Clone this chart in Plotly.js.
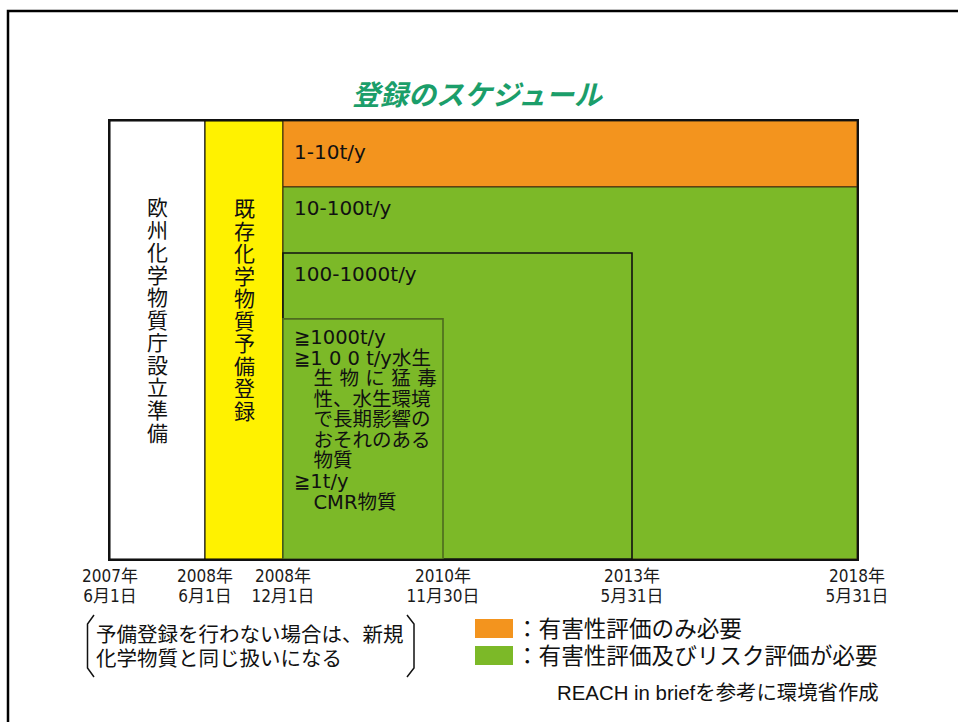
<!DOCTYPE html>
<html><head><meta charset="utf-8">
<script src="https://cdn.plot.ly/plotly-3.0.1.min.js"></script>
<style>html,body{margin:0;padding:0;background:#fff}</style>
</head><body><div id="chart" style="width:958px;height:722px"></div>
<script>
// ---- data ----
const titleText = '登録のスケジュール';
const milestoneYears = ['2007年','2008年','2008年','2010年','2013年','2018年'];
const milestoneDays = ['6月1日','6月1日','12月1日','11月30日','5月31日','5月31日'];
const milestonePos = [0, 95, 173, 333, 522, 747]; // schedule position (diagram is not to time scale)
const phaseLabels = ['欧州化学物質庁設立準備','既存化学物質予備登録'];
const phaseColors = ['#ffffff','#fff200'];
const tierLabels = ['1-10t/y','10-100t/y','100-1000t/y',''];
const tierTop = [6.64, 5.64, 4.64, 3.64];
const tierEndIdx = [5, 5, 4, 3];
const tierColors = ['#f3941e','#7cb928','#7cb928','#7cb928'];
const tierLineColors = ['#3b2a10','#3b2a10','#111111','#4d6b1f'];
const boxBlockA = ['≧1000t/y','≧1 0 0 t/y水生','\u2003生\u2004物\u2004に\u2004猛\u2004毒','\u2003性、水生環境','\u2003で長期影響の','\u2003おそれのある','\u2003物質'];
const boxBlockB = ['≧1t/y','\u2003CMR物質'];
const noteLines = ['予備登録を行わない場合は、新規','化学物質と同じ扱いになる'];
const legendLabels = ['：有害性評価のみ必要','：有害性評価及びリスク評価が必要'];
const legendColors = ['#f3941e','#7cb928'];
const sourceText = 'REACH in briefを参考に環境省作成';

// ---- layout helpers (pixel -> paper) ----
const L = 110, R = 857, T = 121, B = 559;
const px = p => (p - L) / (R - L);
const py = p => (B - p) / (B - T);
const yMax = tierTop[0];
const CJK = 'Noto Sans CJK JP';
const sized = (lines, size) => lines.map(s => `<span style="font-size:${size}px">${s}</span>`).join('<br>');

const traces = [];
phaseLabels.forEach((lab, i) => {
  const x0 = milestonePos[i], x1 = milestonePos[i + 1];
  traces.push({type:'scatter', mode:'lines', x:[x0,x1,x1,x0,x0], y:[0,0,yMax,yMax,0],
    fill:'toself', fillcolor:phaseColors[i], line:{color:'#000', width:1}, hoverinfo:'skip', showlegend:false});
});
tierTop.forEach((top, k) => {
  const x0 = milestonePos[2], x1 = milestonePos[tierEndIdx[k]];
  const y0 = k === 0 ? tierTop[1] : 0;
  traces.push({type:'scatter', mode:'lines', x:[x0,x1,x1,x0,x0], y:[y0,y0,top,top,y0],
    fill:'toself', fillcolor:tierColors[k], line:{color:tierLineColors[k], width: k >= 2 ? 1.6 : 1},
    hoverinfo:'skip', showlegend:false});
});

const ann = [];
// vertical phase texts (one stacked text per column)
const colMid = [319, 308];
phaseLabels.forEach((lab, i) => {
  ann.push({xref:'x', yref:'paper', x:(milestonePos[i] + milestonePos[i+1]) / 2, y:py(colMid[i]),
    text:sized(Array.from(lab), 21), showarrow:false, xanchor:'center', yanchor:'middle', align:'center',
    font:{family:CJK, size:22.55 / 1.3, color:'#111'}});
});
// tier labels
tierLabels.forEach((lab, k) => {
  if (!lab) return;
  const yc = k === 0 ? (tierTop[0] + tierTop[1]) / 2 + 2 / 66 : tierTop[k] - 21 / 66;
  ann.push({xref:'x', yref:'y', x:milestonePos[2], y:yc, xshift:9, text:lab, showarrow:false,
    xanchor:'left', yanchor:'middle', font:{family:'DejaVu Sans, ' + CJK, size:20, color:'#111'}});
});
// >=1000 box text
[[boxBlockA, 398.5], [boxBlockB, 492]].forEach(([lines, mid]) => {
  ann.push({xref:'x', yref:'paper', x:milestonePos[2], y:py(mid), xshift:9, text:sized(lines, 19.5), showarrow:false,
    xanchor:'left', yanchor:'middle', align:'left', font:{family:'DejaVu Sans, ' + CJK, size:20.5 / 1.3, color:'#111'}});
});
// note
ann.push({xref:'paper', yref:'paper', x:px(94), y:py(645), text:sized(noteLines, 20.5), showarrow:false,
  xanchor:'left', yanchor:'middle', align:'left', font:{family:CJK, size:24 / 1.3, color:'#111'}});
// legend
ann.push({xref:'paper', yref:'paper', x:px(514), y:py(641), text:sized(legendLabels, 22.6), showarrow:false,
  xanchor:'left', yanchor:'middle', align:'left', font:{family:CJK, size:27 / 1.3, color:'#111'}});
// source
ann.push({xref:'paper', yref:'paper', x:px(881), y:py(693), text:sourceText, showarrow:false,
  xanchor:'right', yanchor:'middle', font:{family:'Liberation Sans, ' + CJK, size:20.4, color:'#111'}});

const shapes = [];
// outer frame
shapes.push({type:'path', xref:'paper', yref:'paper',
  path:`M ${px(8)} ${py(760)} L ${px(8)} ${py(11)} L ${px(990)} ${py(11)}`, line:{color:'#000', width:2.5}});
// brackets
shapes.push({type:'path', xref:'paper', yref:'paper',
  path:`M ${px(94)} ${py(615)} L ${px(87.5)} ${py(624)} L ${px(87.5)} ${py(668)} L ${px(94)} ${py(677)}`, line:{color:'#111', width:1.5}});
shapes.push({type:'path', xref:'paper', yref:'paper',
  path:`M ${px(407)} ${py(615)} L ${px(414)} ${py(624)} L ${px(414)} ${py(668)} L ${px(407)} ${py(677)}`, line:{color:'#111', width:1.5}});
// legend swatches
legendColors.forEach((c, i) => {
  shapes.push({type:'rect', xref:'paper', yref:'paper', x0:px(475), x1:px(513), y0:py(619 + i * 27), y1:py(638 + i * 27),
    fillcolor:c, line:{width:0}});
});

const tickText = milestoneYears.map((y, i) => sized([y, milestoneDays[i]], 17));

const layout = {
  width:958, height:722, autosize:false,
  margin:{l:L, r:958 - R, t:T, b:722 - B},
  paper_bgcolor:'#fff', plot_bgcolor:'#fff',
  title:{text:titleText, x:477/958, xanchor:'center', y:1 - 95/722, yanchor:'middle',
    font:{family:CJK, size:28, weight:'bold', style:'italic', color:'#1b9e6a'}},
  xaxis:{range:[milestonePos[0], milestonePos[milestonePos.length-1]], tickvals:milestonePos, ticktext:tickText,
    showgrid:false, zeroline:false, showline:true, mirror:true, linecolor:'#111', linewidth:2, ticks:'',
    ticklabelstandoff:3,
    tickfont:{family:'Liberation Sans Narrow, DejaVu Sans Condensed, ' + CJK, size:20 / 1.3, color:'#1a1a1a'}, fixedrange:true},
  yaxis:{range:[0, yMax], showgrid:false, zeroline:false, showticklabels:false, ticks:'',
    showline:true, mirror:true, linecolor:'#111', linewidth:2, fixedrange:true},
  annotations:ann, shapes:shapes, showlegend:false
};
Plotly.newPlot('chart', traces, layout, {staticPlot:true, displayModeBar:false});
</script></body></html>
